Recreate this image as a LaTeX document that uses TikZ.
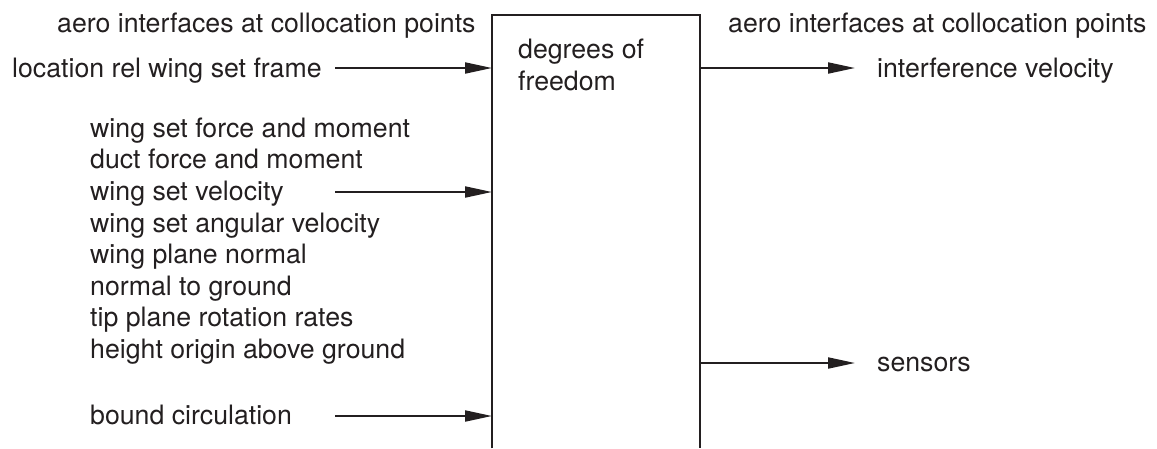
\documentclass[tikz,border=0pt]{standalone}
\usepackage{fontspec}
\setmainfont{TeX Gyre Heros}
\usetikzlibrary{arrows.meta}
\definecolor{encre}{RGB}{35,31,32}

\begin{document}
\begin{tikzpicture}[x=1pt,y=-1pt]
\tikzset{fleche/.style={line width=2pt,encre,-{Triangle[length=27pt,width=11pt]}}} %style des flèches
\tikzset{texte/.style={anchor=base west,inner sep=0pt,text=encre,font=\fontsize{26.7pt}{31.6pt}\selectfont}}
\useasboundingbox (0,0) rectangle (1157,448);

%bloc central, ouvert en bas
\node[minimum width=208pt,minimum height=433pt,inner sep=0pt,anchor=north west] (bloc) at (492,15) {};
\draw[line width=2pt,encre] (bloc.south west)--(bloc.north west)--(bloc.north east)--(bloc.south east);
\node[texte,anchor=north west,align=left,font=\fontsize{26.7pt}{32pt}\selectfont] (ddl) at (518,38.5) {degrees of\\freedom};

%entrées à gauche
\node[texte] (aerog) at (57,32) {aero interfaces at collocation points};
\node[texte] (loc) at (12,77) {location rel wing set frame};
\node[texte,anchor=north west,align=left] (efforts) at (90,117.5) {wing set force and moment\\duct force and moment\\wing set velocity\\wing set angular velocity\\wing plane normal\\normal to ground\\tip plane rotation rates\\height origin above ground};
\node[texte] (circ) at (90,424) {bound circulation};

%sorties à droite
\node[texte] (aerod) at (728,32) {aero interfaces at collocation points};
\node[texte] (interf) at (877,77) {interference velocity};
\node[texte] (capteurs) at (877,371) {sensors};

%départs et arrivées des flèches
\coordinate (dloc) at (335,68);
\coordinate (dvit) at (335,192);
\coordinate (dcirc) at (335,416);
\coordinate (finterf) at (855,68);
\coordinate (fcapt) at (855,363);

\draw[fleche] (dloc) -- (dloc -| bloc.west);
\draw[fleche] (dvit) -- (dvit -| bloc.west);
\draw[fleche] (dcirc) -- (dcirc -| bloc.west);
\draw[fleche] (bloc.east |- finterf) -- (finterf);
\draw[fleche] (bloc.east |- fcapt) -- (fcapt);
\end{tikzpicture}
\end{document}
